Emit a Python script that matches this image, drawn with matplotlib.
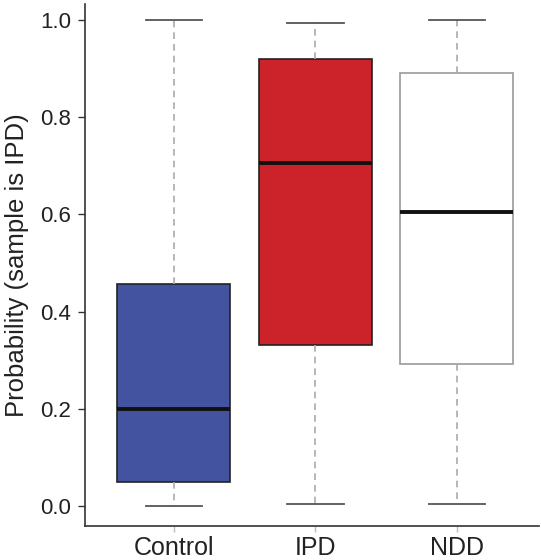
import matplotlib
matplotlib.use("Agg")
import matplotlib.pyplot as plt

# box statistics
groups = ["Control", "IPD", "NDD"]
whisker_low = [0.0, 0.004, 0.004]
q1 = [0.049, 0.331, 0.292]
median = [0.200, 0.706, 0.605]
q3 = [0.457, 0.920, 0.891]
whisker_high = [1.0, 0.994, 1.0]
fill_colors = ["#4453A0", "#CC2229", "#FFFFFF"]
edge_colors = ["#222222", "#222222", "#999999"]

plt.rcParams['font.family'] = ['Liberation Sans', 'DejaVu Sans']

stats = []
for i in range(len(groups)):
    stats.append({'label': groups[i], 'whislo': whisker_low[i], 'q1': q1[i],
                  'med': median[i], 'q3': q3[i], 'whishi': whisker_high[i],
                  'fliers': []})

fig = plt.figure(figsize=(5.41, 5.60), dpi=100)
ax = fig.add_axes([0.157, 0.061, 0.839, 0.932])

bp = ax.bxp(stats, positions=[1, 2, 3], widths=0.8, patch_artist=True,
            showfliers=False,
            whiskerprops=dict(color="#AAAAAA", linestyle=(0, (4, 3)), linewidth=1.2),
            capprops=dict(color="#555555", linewidth=1.3),
            medianprops=dict(color="#111111", linewidth=2.8),
            capwidths=0.4)

for box, fc, ec in zip(bp['boxes'], fill_colors, edge_colors):
    box.set_facecolor(fc)
    box.set_edgecolor(ec)
    box.set_linewidth(1.2)

ax.set_xlim(0.371, 3.58)
ax.set_ylim(-0.041, 1.033)
ax.set_yticks([0.0, 0.2, 0.4, 0.6, 0.8, 1.0])
ax.set_yticklabels(["0.0", "0.2", "0.4", "0.6", "0.8", "1.0"])
ax.set_xticks([1, 2, 3])
ax.set_xticklabels(groups)
ax.set_ylabel("Probability (sample is IPD)", fontsize=18.5, color="#222222", labelpad=8)
ax.tick_params(axis='y', labelsize=16, length=5, width=1, color="#333333", labelcolor="#222222", pad=5)
ax.tick_params(axis='x', labelsize=18, length=4, width=1, color="#BBBBBB", labelcolor="#222222", pad=3)

for s in ['top', 'right']:
    ax.spines[s].set_visible(False)
for s in ['left', 'bottom']:
    ax.spines[s].set_color("#333333")
    ax.spines[s].set_linewidth(1.2)

fig.savefig("out.png", dpi=100)
